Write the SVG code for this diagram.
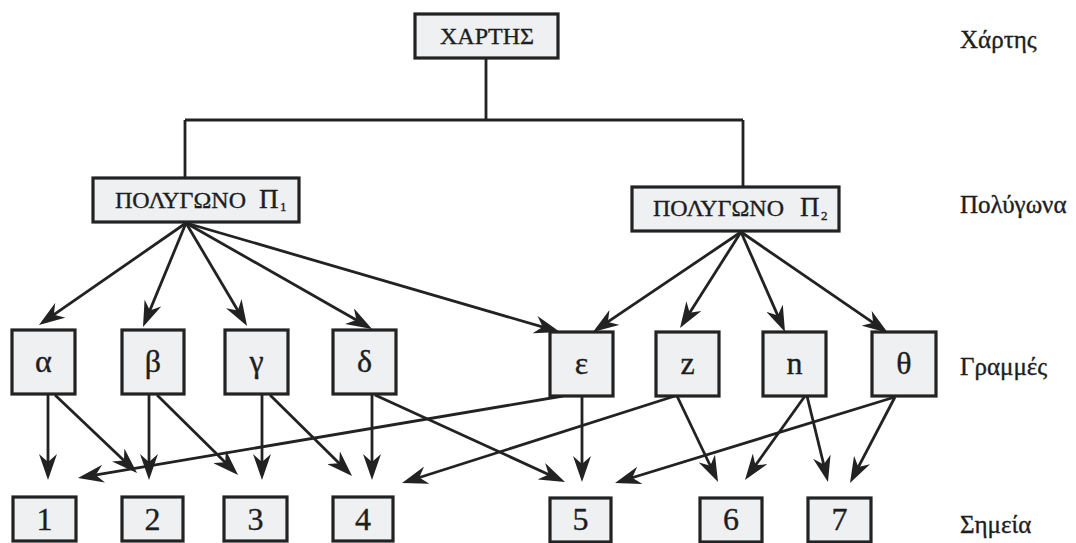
<svg xmlns="http://www.w3.org/2000/svg" width="1076" height="543" viewBox="0 0 1076 543">
<style>
.box{fill:#eef0f2;stroke:#222222;stroke-width:3.2}
.t{font-family:"Liberation Serif","DejaVu Serif",serif;fill:#1e1e1e;stroke:#1e1e1e;stroke-width:0.35}
.cap{font-size:24px}
.let{font-size:32px;text-anchor:middle}
.num{font-size:32px;text-anchor:middle}
.lab{font-size:25px}
.ln{stroke:#222222;stroke-width:2.8;fill:none}
.ar{stroke:#222222;stroke-width:2.8;fill:none;marker-end:url(#ah)}
</style>
<defs>
<marker id="ah" viewBox="0 0 26 18" refX="21" refY="9" markerWidth="26" markerHeight="18" markerUnits="userSpaceOnUse" orient="auto">
<path d="M0,0 L26,9 L0,18 L8,9 Z" fill="#222222"/>
</marker>
</defs>
<rect width="1076" height="543" fill="#ffffff"/>
<g id="connectors">
<path class="ln" d="M486,58 V120 M185,120 H743 M185,120 V178 M743,120 V187"/>
<line class="ar" x1="186" y1="223" x2="43.1" y2="322.2"/>
<line class="ar" x1="186" y1="223" x2="144.9" y2="322.4"/>
<line class="ar" x1="186" y1="223" x2="244.5" y2="321.7"/>
<line class="ar" x1="186" y1="223" x2="367.7" y2="326.5"/>
<line class="ar" x1="186" y1="223" x2="555.2" y2="330.6"/>
<line class="ar" x1="741" y1="232" x2="597.1" y2="329.2"/>
<line class="ar" x1="741" y1="232" x2="682.7" y2="323.8"/>
<line class="ar" x1="741" y1="232" x2="783" y2="327.4"/>
<line class="ar" x1="741" y1="232" x2="883.9" y2="330.2"/>
<line class="ar" x1="48" y1="395" x2="48" y2="475"/>
<line class="ar" x1="55" y1="395" x2="133.4" y2="469.5"/>
<line class="ar" x1="149" y1="395" x2="149" y2="475"/>
<line class="ar" x1="157" y1="395" x2="234.5" y2="471.5"/>
<line class="ar" x1="262" y1="395" x2="262" y2="475"/>
<line class="ar" x1="270" y1="395" x2="348.5" y2="472.5"/>
<line class="ar" x1="372" y1="395" x2="372" y2="475"/>
<line class="ar" x1="375" y1="395" x2="560.5" y2="479.9"/>
<line class="ar" x1="563" y1="396" x2="82.9" y2="477.2"/>
<line class="ar" x1="582" y1="396" x2="582" y2="477"/>
<line class="ar" x1="675" y1="396" x2="406.8" y2="481.5"/>
<line class="ar" x1="677" y1="396" x2="715.9" y2="477.5"/>
<line class="ar" x1="805" y1="396" x2="747.9" y2="475.9"/>
<line class="ar" x1="807" y1="396" x2="826.8" y2="477.1"/>
<line class="ar" x1="895" y1="397" x2="619.8" y2="481.5"/>
<line class="ar" x1="895" y1="397" x2="852.3" y2="478.6"/>
</g>
<g id="xartis"><rect class="box" x="415" y="14" width="143" height="44"/><text class="t cap" x="487" y="44" text-anchor="middle" font-size="25">ΧΑΡΤΗΣ</text></g>
<g id="p1"><rect class="box" x="93" y="178" width="206" height="44"/><text class="t cap" y="208"><tspan x="115">ΠΟΛΥΓΩΝΟ</tspan><tspan x="259" font-size="27">Π</tspan><tspan x="280" y="211" font-size="13">1</tspan></text></g>
<g id="p2"><rect class="box" x="632" y="187" width="207" height="44"/><text class="t cap" y="216"><tspan x="653">ΠΟΛΥΓΩΝΟ</tspan><tspan x="800" font-size="27">Π</tspan><tspan x="821" y="220" font-size="13">2</tspan></text></g>
<g id="l-a"><rect class="box" x="12" y="330" width="63" height="64"/><text class="t let" x="43.5" y="372">α</text></g>
<g id="l-b"><rect class="box" x="122" y="330" width="62" height="64"/><text class="t let" x="153" y="372">β</text></g>
<g id="l-g"><rect class="box" x="225" y="330" width="63" height="64"/><text class="t let" x="256.5" y="372">γ</text></g>
<g id="l-d"><rect class="box" x="333" y="330" width="63" height="64"/><text class="t let" x="364.5" y="372">δ</text></g>
<g id="l-e"><rect class="box" x="550" y="332" width="63" height="64"/><text class="t let" x="581.5" y="374">ε</text></g>
<g id="l-z"><rect class="box" x="656" y="332" width="63" height="64"/><text class="t let" x="687.5" y="374">z</text></g>
<g id="l-n"><rect class="box" x="763" y="332" width="63" height="64"/><text class="t let" x="794.5" y="374">n</text></g>
<g id="l-th"><rect class="box" x="872" y="332" width="64" height="64"/><text class="t let" x="904" y="374">θ</text></g>
<g id="n1"><rect class="box" x="13" y="497" width="63" height="44"/><text class="t num" x="44.5" y="530">1</text></g>
<g id="n2"><rect class="box" x="122" y="497" width="61" height="44"/><text class="t num" x="152.5" y="530">2</text></g>
<g id="n3"><rect class="box" x="224" y="497" width="63" height="44"/><text class="t num" x="255.5" y="530">3</text></g>
<g id="n4"><rect class="box" x="333" y="497" width="60" height="44"/><text class="t num" x="363" y="530">4</text></g>
<g id="n5"><rect class="box" x="550" y="498" width="61" height="44"/><text class="t num" x="580.5" y="530">5</text></g>
<g id="n6"><rect class="box" x="700" y="498" width="62" height="44"/><text class="t num" x="731" y="530">6</text></g>
<g id="n7"><rect class="box" x="808" y="498" width="63" height="44"/><text class="t num" x="839.5" y="530">7</text></g>
<g id="labels">
<text class="t lab" x="960" y="48">Χάρτης</text>
<text class="t lab" x="960" y="213">Πολύγωνα</text>
<text class="t lab" x="960" y="375">Γραμμές</text>
<text class="t lab" x="960" y="533">Σημεία</text>
</g>
</svg>
